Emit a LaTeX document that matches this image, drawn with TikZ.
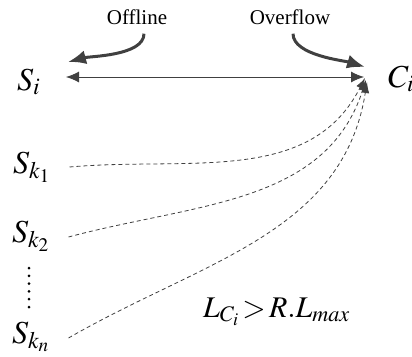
\documentclass[tikz,border=0pt]{standalone}
\usepackage{mathptmx}
\usepackage[no-math]{fontspec}
\setmainfont{Liberation Serif}
\usetikzlibrary{arrows.meta}
\definecolor{arrgray}{HTML}{404040}
\tikzset{
  sym/.style={inner sep=0pt, anchor=base west, font=\fontsize{32}{36}\selectfont},
  tag/.style={inner sep=0pt, font=\fontsize{21}{24}\selectfont},
  hint/.style={arrgray, line width=3pt, -{Latex[length=18pt,width=14pt]}},
  link/.style={arrgray, line width=0.9pt, {Latex[length=13pt,width=11pt]}-{Latex[length=13pt,width=11pt]}},
  relay/.style={arrgray, line width=0.8pt, dash pattern=on 4pt off 3pt, -{Latex[length=11pt,width=8pt]}}
}
\begin{document}
\begin{tikzpicture}[x=1pt, y=-1pt]
  \useasboundingbox (0,0) rectangle (412,356);
  % servers and cluster
  \node[sym] (si) at (17,90) {$S_i$};
  \node[sym] (ci) at (388,87) {$C_i$};
  \node[sym] (sk1) at (13,173) {$S_{k_1}$};
  \node[sym] (sk2) at (12,242) {$S_{k_2}$};
  \node[sym] (skn) at (12,343) {$S_{k_n}$};
  \node[sym, font=\fontsize{30}{36}\selectfont] (cond) at (203,317) {$L_{C_i}\,{>}\,R.L_{max}$};
  \foreach \i in {0,...,5} \fill (29,268+7.8*\i) circle (1.5);
  % labels
  \node[tag] (off) at (137,17) {Offline};
  \node[tag] (ovf) at (290,17) {Overflow};
  % arrows
  \coordinate (west) at (66,77);
  \coordinate (hub) at (364,77);
  \draw[link] (west) -- (hub);
  \draw[hint] ([xshift=7pt,yshift=-9pt]off.south) to[out=-90, in=15, looseness=0.7] ([xshift=2pt,yshift=15pt]west);
  \draw[hint] ([xshift=3pt,yshift=-9pt]ovf.south) to[out=-90, in=163, looseness=0.7] ([xshift=1pt,yshift=10pt]hub);
  \draw[relay] ([xshift=19pt,yshift=6pt]sk1.base east) to[out=5, in=243] ([xshift=1pt,yshift=-1pt]hub);
  \draw[relay] ([xshift=19pt,yshift=5pt]sk2.base east) to[out=15, in=252] ([xshift=2pt,yshift=-3pt]hub);
  \draw[relay] ([xshift=19pt,yshift=5pt]skn.base east) to[out=30, in=261] ([xshift=3pt,yshift=-5pt]hub);
\end{tikzpicture}
\end{document}
